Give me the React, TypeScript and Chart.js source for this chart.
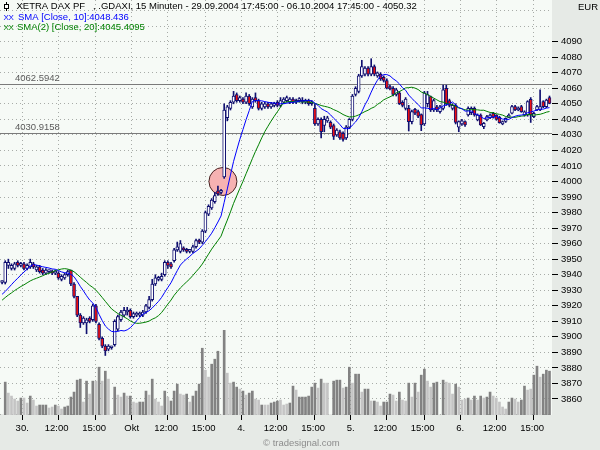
import React, { useEffect, useRef } from 'react';
import { Chart, registerables } from 'chart.js';

Chart.register(...registerables);

// ---------- data (15-minute bars, 29.09.2004 17:45 … 06.10.2004 17:45) ----------
const priorCloses = [
  3914, 3916, 3918, 3917, 3920, 3921, 3922, 3921, 3923, 3926,
  3930, 3926, 3924, 3925, 3927, 3926, 3925, 3927, 3929,
];

const opens = [
  3935, 3935, 3946, 3944, 3944, 3948, 3946, 3947, 3944, 3945,
  3947, 3943, 3945, 3943, 3941, 3942, 3942, 3941, 3941, 3937,
  3938, 3940, 3943, 3934, 3926, 3914, 3909, 3909, 3912, 3911,
  3920, 3908, 3899, 3894, 3892, 3893, 3895, 3905, 3911, 3914,
  3916, 3917, 3913, 3914, 3914, 3914, 3916, 3919, 3924, 3934,
  3937, 3937, 3940, 3948, 3947, 3949, 3956, 3955, 3957, 3956,
  3955, 3955, 3958, 3962, 3961, 3968, 3979, 3983, 3987, 3994,
  3993, 4003, 4041, 4047, 4051, 4056, 4052, 4053, 4051, 4055,
  4048, 4054, 4052, 4047, 4048, 4050, 4048, 4049, 4051, 4049,
  4051, 4052, 4051, 4053, 4051, 4052, 4052, 4051, 4052, 4050,
  4047, 4037, 4040, 4036, 4039, 4038, 4036, 4030, 4032, 4031,
  4028, 4035, 4040, 4056, 4058, 4068, 4069, 4073, 4069, 4074,
  4068, 4069, 4067, 4065, 4061, 4060, 4056, 4057, 4051, 4047,
  4047, 4038.5, 4046.5, 4045, 4043, 4037, 4050, 4054.6, 4046, 4048,
  4045, 4047, 4060, 4052, 4047, 4049, 4035, 4037, 4038.5, 4042.8,
  4044.3, 4047, 4039.6, 4042.8, 4035.3, 4039.6, 4041, 4043.9, 4042.8, 4041.3,
  4037, 4038.7, 4041.3, 4043.9, 4048.2, 4046, 4048.2, 4042.8, 4042.8, 4052.9,
  4041.7, 4046, 4046, 4051.4, 4048.2, 4054,
];

const highs = [
  3936, 3949, 3950, 3947, 3948, 3949, 3948, 3948, 3947, 3950,
  3948, 3946, 3946, 3944, 3944, 3943, 3943, 3943, 3942, 3940,
  3941, 3943, 3943, 3935, 3926, 3915, 3913, 3912, 3913, 3921,
  3921, 3909, 3900, 3895, 3895, 3894, 3911, 3914, 3917, 3919,
  3919, 3918, 3916, 3916, 3916, 3917, 3921, 3926, 3937, 3940,
  3939, 3941, 3949, 3949, 3948, 3957, 3961, 3962, 3958, 3957,
  3956, 3959, 3963, 3963, 3969, 3981, 3985, 3989, 3993, 3997,
  3995, 4050, 4049, 4052, 4058, 4057, 4055, 4054, 4057, 4056,
  4054, 4057, 4053, 4051, 4051, 4051, 4051, 4051, 4052, 4054,
  4054, 4055, 4054, 4054, 4053, 4054, 4054, 4053, 4053, 4052,
  4050, 4041, 4041, 4042, 4042, 4039, 4037, 4034, 4033, 4032,
  4036, 4040.5, 4056, 4061, 4069, 4078, 4074, 4074, 4079, 4075,
  4070.5, 4070, 4068, 4066, 4062, 4061, 4060, 4058, 4052, 4054,
  4049, 4046, 4047, 4046, 4043.5, 4058, 4058, 4055, 4053, 4049,
  4049, 4062, 4062, 4053, 4050, 4050, 4039, 4040, 4039, 4048,
  4048, 4048, 4043.5, 4043.5, 4038, 4042.5, 4043.5, 4044.5, 4043, 4042,
  4039, 4041, 4043.5, 4049, 4049, 4048, 4049, 4045.5, 4052, 4054,
  4044.5, 4049, 4059, 4052, 4053, 4055,
];

const lows = [
  3934, 3934, 3944, 3943, 3943, 3945, 3945, 3943, 3943, 3944,
  3944, 3942, 3941, 3940, 3940, 3941, 3940, 3940, 3937, 3936,
  3937, 3939, 3933, 3925, 3913, 3906, 3908, 3902, 3909, 3910,
  3909, 3898, 3893, 3888, 3891, 3892, 3894, 3904, 3910, 3913,
  3914, 3912, 3912, 3913, 3913, 3913, 3915, 3918, 3923, 3933,
  3936, 3936, 3939, 3944, 3944, 3948, 3955, 3954, 3955, 3954,
  3954, 3954, 3957, 3960, 3960, 3967, 3978, 3982, 3986, 3991,
  3992, 4002, 4039, 4046, 4050, 4051, 4051, 4050, 4050, 4049,
  4047, 4051, 4046, 4046, 4047, 4047, 4047, 4048, 4048, 4048,
  4050, 4051, 4050, 4050, 4050, 4051, 4050, 4050, 4049, 4049,
  4036, 4036, 4028, 4032, 4038, 4034, 4027, 4029, 4027, 4026,
  4027, 4034, 4039, 4055, 4057, 4067, 4068, 4068, 4068, 4068,
  4067, 4065, 4064, 4059.5, 4059, 4055, 4055, 4049.5, 4048, 4046,
  4032.5, 4037, 4043, 4041, 4032.7, 4036, 4048, 4045, 4045, 4045,
  4044, 4046, 4049, 4048, 4046, 4037, 4032, 4036, 4035.5, 4042,
  4043, 4042, 4039, 4036, 4034, 4039, 4040.5, 4040.8, 4039.5, 4037.5,
  4036.5, 4038, 4041, 4043.5, 4045.5, 4045.5, 4044.5, 4042, 4042, 4038,
  4041, 4045.5, 4045.5, 4047.5, 4047.5, 4050,
];

const closes = [
  3935, 3948, 3948, 3946, 3947, 3946, 3947, 3944, 3946, 3948,
  3945, 3945, 3942, 3941, 3943, 3942, 3941, 3942, 3938, 3939,
  3940, 3942, 3934, 3926, 3914, 3909, 3912, 3911, 3910, 3920,
  3910, 3899, 3894, 3891, 3894, 3894, 3910, 3913, 3916, 3917,
  3917, 3913, 3915, 3915, 3915, 3916, 3920, 3924, 3934, 3938,
  3938, 3939, 3948, 3946, 3945, 3956, 3958, 3960, 3956, 3955,
  3955, 3958, 3962, 3961, 3968, 3980, 3984, 3988, 3991, 3992,
  3994, 4046, 4048, 4051, 4055, 4052, 4054, 4051, 4055, 4050,
  4053, 4052, 4047, 4050, 4050, 4048, 4050, 4050, 4049, 4052,
  4053, 4054, 4053, 4051, 4052, 4053, 4051, 4052, 4050, 4051,
  4037, 4040, 4032, 4040, 4041, 4035, 4029, 4033, 4028, 4027,
  4035, 4040, 4055, 4060, 4068, 4074, 4073, 4069, 4074, 4069,
  4070, 4066, 4065, 4060, 4059.5, 4056, 4059, 4050, 4049, 4053,
  4038.5, 4045, 4044, 4042, 4036.4, 4057, 4056, 4046, 4052, 4046,
  4048, 4059, 4050, 4049, 4049, 4038, 4038.5, 4039, 4036.4, 4047,
  4047, 4042.8, 4042.8, 4036.4, 4037.4, 4041.7, 4042.8, 4041.3, 4040, 4037.9,
  4038.5, 4040.7, 4042.8, 4048.2, 4046, 4047.1, 4045, 4044.9, 4051.4, 4042.8,
  4043.9, 4048.2, 4048.2, 4048.2, 4052.4, 4050.3,
];

// volume in 1,000 shares (relative), tone: D = dark bar, L = light bar
const volume = [
  0, 33, 22, 19, 16, 14, 17, 17, 12, 19,
  15, 9, 10, 10, 10, 7, 8, 10, 9, 6,
  8, 9, 18, 23, 35, 36, 13, 34, 21, 34,
  34, 48, 34, 44, 36, 0, 28, 20, 18, 22,
  19, 19, 13, 12, 13, 13, 24, 20, 36, 16,
  13, 9, 24, 18, 14, 24, 31, 21, 20, 21,
  13, 19, 24, 31, 67, 45, 38, 51, 56, 64,
  0, 85, 42, 32, 33, 28, 26, 24, 20, 22,
  24, 16, 15, 10, 10, 10, 12, 13, 14, 15,
  10, 11, 12, 29, 25, 18, 18, 18, 19, 28,
  32, 27, 36, 32, 32, 0, 34, 35, 35, 27,
  28, 48, 32, 41, 41, 23, 26, 26, 14, 14,
  13, 9, 13, 13, 21, 20, 14, 23, 15, 14,
  32, 18, 32, 23, 40, 46, 34, 28, 32, 33,
  0, 35, 33, 32, 21, 31, 28, 15, 16, 17,
  15, 19, 15, 19, 17, 18, 23, 19, 17, 13,
  8, 6, 13, 17, 16, 13, 15, 29, 25, 26,
  40, 49, 38, 41, 45, 44,
];

const volumeTone = (
  '-DLLLLDLLD' + 'LLDDDLLDLL' + 'DDDDDDLDLD' + 'LDLDL-DLLD' + 'LDLLDDDLDL' +
  'LLDLDDDLLD' + 'LDDDDLLDDD' + '-DLLDDLDLD' + 'DLLDLLDDDL' + 'LLDDLDDDDD' +
  'DLDLL-DDDL' + 'DDLDDLDDLD' + 'LLDDDLLDLL' + 'DLDLDDLLDD' + '-DLLLDLLLD' +
  'LDLDLDDLLL' + 'LLDDLLDDLL' + 'DDLDDD'
).split('');

const xTickBars = [1, 12, 24, 36, 47, 59, 71, 82, 94, 106, 117, 129, 141, 152, 164];
const xTickLabels = ['30.', '12:00', '15:00', 'Okt', '12:00', '15:00', '4.', '12:00', '15:00', '5.', '12:00', '15:00', '6.', '12:00', '15:00'];
const priceTicks = [3860, 3870, 3880, 3890, 3900, 3910, 3920, 3930, 3940, 3950, 3960, 3970, 3980, 3990, 4000, 4010, 4020, 4030, 4040, 4050, 4060, 4070, 4080, 4090];
const gridValues = [3850, ...priceTicks, 4100, 4110];
const levelValues = [4062.5942, 4030.9158];
const levelLabels = ['4062.5942', '4030.9158'];
const markerPoint = [{ x: 70.6, y: 4000 }];

const titleText = 'XETRA DAX PF   , .GDAXI, 15 Minuten - 29.09.2004 17:45:00 - 06.10.2004 17:45:00 - 4050.32';
const sma10Text = 'SMA [Close, 10]:4048.436';
const sma20Text = 'SMA(2) [Close, 20]:4045.4095';
const currencyText = 'EUR';
const creditText = '\u00A9 tradesignal.com';

// ---------- styling ----------
const PRICE_MIN = 3849.7;
const PRICE_MAX = 4116.8;
const BAR_MIN = -0.67;
const BAR_MAX = 175.8;
const PLOT_BG = '#f6faf6';
const OUTER_BG = '#e6eae6';
const GRID = '#a8aca8';
const NAVY = '#101070';
const RED = '#ee1010';
const BLUE = '#0000ff';
const GREEN = '#008000';
const FONT = '"Liberation Sans", Arial, Helvetica, sans-serif';

function movingAverage(values: number[], history: number[], n: number) {
  const all = [...history, ...values];
  return values.map((_, i) => {
    const end = history.length + i;
    let s = 0;
    for (let k = 0; k < n; k++) s += all[end - k];
    return s / n;
  });
}

function drawLineIcon(ctx: CanvasRenderingContext2D, color: string, y: number) {
  // small "XX" series symbol
  ctx.save();
  ctx.fillStyle = color;
  ctx.font = '8px ' + FONT;
  ctx.textBaseline = 'middle';
  ctx.fillText('X', 3.5, y);
  ctx.fillText('X', 8.5, y);
  ctx.restore();
}

const decorPlugin = {
  id: 'decor',
  beforeDraw(chart: any) {
    const { ctx, chartArea: a } = chart;
    ctx.save();
    ctx.fillStyle = PLOT_BG;
    ctx.fillRect(a.left, a.top, a.right - a.left, a.bottom - a.top);
    ctx.restore();
  },
  beforeDatasetsDraw(chart: any) {
    const { ctx, chartArea: a, scales } = chart;
    ctx.save();
    levelValues.forEach((v, k) => {
      const y = Math.round(scales.y.getPixelForValue(v)) + 0.5;
      ctx.strokeStyle = '#7a7a7a';
      ctx.lineWidth = 1;
      ctx.beginPath();
      ctx.moveTo(a.left, y);
      ctx.lineTo(a.right, y);
      ctx.stroke();
      ctx.fillStyle = '#5a5a5a';
      ctx.font = '9.5px ' + FONT;
      ctx.textBaseline = 'alphabetic';
      ctx.textAlign = 'left';
      ctx.fillText(levelLabels[k], 15, y - 3.5);
    });
    ctx.restore();
  },
  afterDraw(chart: any) {
    const { ctx } = chart;
    ctx.save();
    ctx.font = '9.5px ' + FONT;
    ctx.textBaseline = 'middle';
    ctx.textAlign = 'left';
    // title line with a small candle symbol
    ctx.strokeStyle = '#000';
    ctx.lineWidth = 1;
    ctx.beginPath();
    ctx.moveTo(6.5, 2);
    ctx.lineTo(6.5, 11);
    ctx.stroke();
    ctx.fillStyle = '#fff';
    ctx.fillRect(4.5, 4.5, 4, 4);
    ctx.strokeRect(4.5, 4.5, 4, 4);
    ctx.fillStyle = '#000';
    ctx.fillText(titleText, 16.5, 6.5);
    drawLineIcon(ctx, BLUE, 17.4);
    ctx.fillStyle = BLUE;
    ctx.fillText(sma10Text, 18, 17.2);
    drawLineIcon(ctx, GREEN, 27.8);
    ctx.fillStyle = GREEN;
    ctx.fillText(sma20Text, 17, 27.6);
    ctx.fillStyle = '#000';
    ctx.fillText(currencyText, 578, 7.5);
    ctx.fillStyle = '#8c8c8c';
    ctx.fillText(creditText, 263, 443.5);
    ctx.restore();
  },
};

export default function App() {
  const ref = useRef<HTMLCanvasElement | null>(null);

  useEffect(() => {
    document.body.style.margin = '0';
    const canvas = ref.current;
    if (!canvas) return;

    const idx = closes.map((_, i) => i);
    const sma10 = movingAverage(closes, priorCloses, 10);
    const sma20 = movingAverage(closes, priorCloses, 20);
    const volumeAxisMax = Math.max(...volume) * 4.9;

    const chart = new Chart(canvas, {
      type: 'bar',
      data: {
        datasets: [
          {
            type: 'line',
            label: 'SMA 10',
            data: idx.map((i) => ({ x: i, y: sma10[i] })),
            borderColor: BLUE,
            borderWidth: 1,
            pointRadius: 0,
            tension: 0,
            yAxisID: 'y',
            order: 1,
          },
          {
            type: 'line',
            label: 'SMA 20',
            data: idx.map((i) => ({ x: i, y: sma20[i] })),
            borderColor: GREEN,
            borderWidth: 1,
            pointRadius: 0,
            tension: 0,
            yAxisID: 'y',
            order: 2,
          },
          {
            type: 'bar',
            label: 'body',
            data: idx.map((i) => ({ x: i, y: [opens[i], closes[i]] })),
            backgroundColor: idx.map((i) => (closes[i] >= opens[i] ? '#ffffff' : RED)),
            borderColor: NAVY,
            borderWidth: 1,
            borderSkipped: false,
            barThickness: 3,
            minBarLength: 2,
            grouped: false,
            yAxisID: 'y',
            order: 4,
          } as any,
          {
            type: 'bar',
            label: 'wick',
            data: idx.map((i) => ({ x: i, y: [lows[i], highs[i]] })),
            backgroundColor: NAVY,
            borderWidth: 0,
            barThickness: 1,
            grouped: false,
            yAxisID: 'y',
            order: 6,
          } as any,
          {
            type: 'line',
            label: 'marker',
            data: markerPoint,
            showLine: false,
            pointRadius: 14,
            pointBackgroundColor: '#f6b2b2',
            pointBorderColor: '#4a2424',
            pointBorderWidth: 1,
            yAxisID: 'y',
            order: 8,
          },
          {
            type: 'bar',
            label: 'volume',
            data: idx.map((i) => ({ x: i, y: volume[i] })),
            backgroundColor: volumeTone.map((t) => (t === 'D' ? '#828282' : '#c4c4c4')),
            borderWidth: 0,
            barThickness: 2,
            grouped: false,
            yAxisID: 'yv',
            order: 10,
          } as any,
        ],
      },
      options: {
        responsive: false,
        animation: false,
        devicePixelRatio: 1,
        events: [],
        layout: { padding: 0, autoPadding: false } as any,
        plugins: {
          legend: { display: false },
          tooltip: { enabled: false },
          title: { display: false },
        },
        scales: {
          x: {
            type: 'linear',
            position: 'bottom',
            min: BAR_MIN,
            max: BAR_MAX,
            offset: false,
            bounds: 'data',
            afterBuildTicks: (s: any) => {
              s.ticks = xTickBars.map((v) => ({ value: v }));
            },
            afterFit: (s: any) => {
              s.height = 35;
              s.paddingLeft = 0;
              s.paddingRight = 0;
            },
            grid: {
              color: GRID,
              lineWidth: 1,
              drawTicks: true,
              tickLength: 5,
              tickColor: '#000',
              tickWidth: 1,
              borderDash: [1, 3],
            } as any,
            border: { display: false, dash: [1, 3] },
            ticks: {
              autoSkip: false,
              maxRotation: 0,
              minRotation: 0,
              labelOffset: 17,
              padding: 3,
              color: '#000',
              font: { family: FONT, size: 9.5 },
              callback: (_v: any, i: number) => xTickLabels[i] ?? '',
            },
          },
          y: {
            type: 'linear',
            position: 'right',
            min: PRICE_MIN,
            max: PRICE_MAX,
            bounds: 'data',
            afterBuildTicks: (s: any) => {
              s.ticks = gridValues.map((v) => ({ value: v }));
            },
            afterFit: (s: any) => {
              s.width = 48;
              s.paddingTop = 0;
              s.paddingBottom = 0;
            },
            grid: {
              color: GRID,
              lineWidth: 1,
              tickLength: 6,
              tickWidth: 1,
              tickColor: (c: any) =>
                c.tick && priceTicks.includes(c.tick.value) ? '#000' : 'rgba(0,0,0,0)',
              borderDash: [1, 3],
            } as any,
            border: { display: false, dash: [1, 3] },
            ticks: {
              autoSkip: false,
              padding: 3,
              color: '#000',
              font: { family: FONT, size: 9.5 },
              callback: (v: any) => (priceTicks.includes(Number(v)) ? String(v) : ''),
            },
          },
          yv: {
            type: 'linear',
            display: false,
            min: 0,
            max: volumeAxisMax,
          },
        },
      } as any,
      plugins: [decorPlugin],
    });

    return () => chart.destroy();
  }, []);

  return (
    <div style={{ width: 600, height: 450, background: OUTER_BG, overflow: 'hidden' }}>
      <canvas ref={ref} width={600} height={450} style={{ display: 'block', width: 600, height: 450 }} />
    </div>
  );
}
